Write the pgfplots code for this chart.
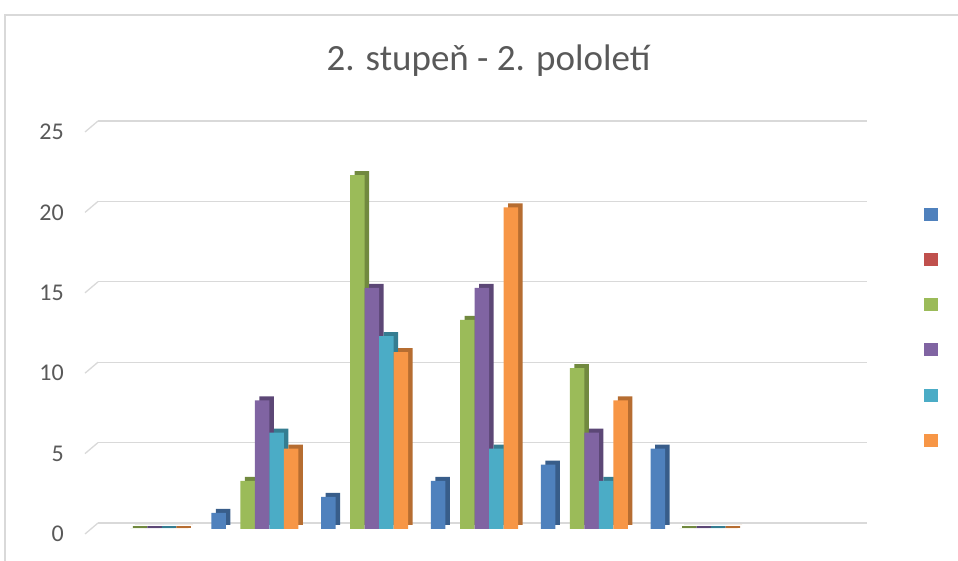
\documentclass[border=0pt]{standalone}
\usepackage{pgfplots}
\pgfplotsset{compat=1.18}
\usepackage{pgfplotstable}
\usepackage{fontspec}
\setmainfont{Carlito}
\definecolor{blueC}{HTML}{4F81BD}\definecolor{blueD}{HTML}{385D8A}
\definecolor{redC}{HTML}{C0504D}
\definecolor{greenC}{HTML}{9BBB59}\definecolor{greenD}{HTML}{71893F}
\definecolor{purpleC}{HTML}{8064A2}\definecolor{purpleD}{HTML}{5C4776}
\definecolor{cyanC}{HTML}{4BACC6}\definecolor{cyanD}{HTML}{357D91}
\definecolor{orangeC}{HTML}{F79646}\definecolor{orangeD}{HTML}{B66D31}
\definecolor{txt}{HTML}{595959}
\definecolor{gridc}{HTML}{D9D9D9}

\pgfplotstableread{
x blue green purple cyan orange
0 nan 0 0 0 0
1 1 3 8 6 5
2 2 22 15 12 11
3 3 13 15 5 20
4 4 10 6 3 8
5 5 0 0 0 0
}\data

\pgfplotstableread{
x v
0 0
5 0
}\zeros

\begin{document}
\begin{tikzpicture}
\useasboundingbox (0pt,0pt) rectangle (958pt,561pt);
\draw[gridc, line width=1.3pt] (5pt,0pt) -- (5pt,546pt) -- (958pt,546pt);
\node[anchor=base, font=\fontsize{37}{40}\selectfont, text=txt, inner sep=0pt] at (488.5pt,490pt) {2. stupeň - 2. pololetí};
\begin{axis}[
  at={(98pt,38pt)}, anchor=south west,
  scale only axis, width=769pt, height=402pt,
  xmin=-0.5, xmax=6.5, ymin=0, ymax=25,
  clip=false,
  axis line style={draw=none},
  xtick=\empty, ytick={0,5,...,25},
  major tick length=0pt,
  ymajorgrids, grid style={draw=gridc, line width=1.3pt},
  yticklabel style={font=\fontsize{24}{26}\selectfont, text=txt, anchor=east, inner sep=0pt, xshift=-34pt, yshift=-11pt},
  /pgf/number format/assume math mode=true,
  ybar, bar width=14.5pt,
  legend image code/.code={\fill[#1] (0pt,-6.5pt) rectangle (14pt,6.5pt);},
  legend style={at={(1.0745,0.7843)}, anchor=north west, draw=none, fill=none,
    inner sep=0pt, outer sep=0pt, row sep=32.2pt, nodes={inner sep=0pt}},
]
\pgfplotsinvokeforeach{0,5,10,15,20,25}{\draw[gridc, line width=1.3pt] (axis cs:-0.5,#1) -- ++(-13pt,-11pt);}
% depth (side/top) layers
\addplot[fill=blueD, draw=none, bar shift=-36.25pt, xshift=-3.5pt, yshift=-2pt, forget plot] table[x=x,y=blue]{\data};
\addplot[fill=greenD, draw=none, bar shift=-7.25pt, xshift=-3.5pt, yshift=-2pt, forget plot] table[x=x,y=green]{\data};
\addplot[fill=purpleD, draw=none, bar shift=7.25pt, xshift=-3.5pt, yshift=-2pt, forget plot] table[x=x,y=purple]{\data};
\addplot[fill=cyanD, draw=none, bar shift=21.75pt, xshift=-3.5pt, yshift=-2pt, forget plot] table[x=x,y=cyan]{\data};
\addplot[fill=orangeD, draw=none, bar shift=36.25pt, xshift=-3.5pt, yshift=-2pt, forget plot] table[x=x,y=orange]{\data};
% zero-value slabs
\addplot[fill=none, draw=greenD, line width=2.5pt, bar shift=-7.25pt, xshift=-5.5pt, yshift=-4pt, forget plot] table[x=x,y=v]{\zeros};
\addplot[fill=none, draw=purpleD, line width=2.5pt, bar shift=7.25pt, xshift=-5.5pt, yshift=-4pt, forget plot] table[x=x,y=v]{\zeros};
\addplot[fill=none, draw=cyanD, line width=2.5pt, bar shift=21.75pt, xshift=-5.5pt, yshift=-4pt, forget plot] table[x=x,y=v]{\zeros};
\addplot[fill=none, draw=orangeD, line width=2.5pt, bar shift=36.25pt, xshift=-5.5pt, yshift=-4pt, forget plot] table[x=x,y=v]{\zeros};
% front faces
\addplot[fill=blueC, draw=none, bar shift=-36.25pt, xshift=-8pt, yshift=-6pt, forget plot] table[x=x,y=blue]{\data};
\addplot[fill=greenC, draw=none, bar shift=-7.25pt, xshift=-8pt, yshift=-6pt, forget plot] table[x=x,y=green]{\data};
\addplot[fill=purpleC, draw=none, bar shift=7.25pt, xshift=-8pt, yshift=-6pt, forget plot] table[x=x,y=purple]{\data};
\addplot[fill=cyanC, draw=none, bar shift=21.75pt, xshift=-8pt, yshift=-6pt, forget plot] table[x=x,y=cyan]{\data};
\addplot[fill=orangeC, draw=none, bar shift=36.25pt, xshift=-8pt, yshift=-6pt, forget plot] table[x=x,y=orange]{\data};
% legend (no texts in the reference)
\addlegendimage{fill=blueC, draw=none}\addlegendentry{\mbox{}}
\addlegendimage{fill=redC, draw=none}\addlegendentry{\mbox{}}
\addlegendimage{fill=greenC, draw=none}\addlegendentry{\mbox{}}
\addlegendimage{fill=purpleC, draw=none}\addlegendentry{\mbox{}}
\addlegendimage{fill=cyanC, draw=none}\addlegendentry{\mbox{}}
\addlegendimage{fill=orangeC, draw=none}\addlegendentry{\mbox{}}
\end{axis}
\end{tikzpicture}
\end{document}
